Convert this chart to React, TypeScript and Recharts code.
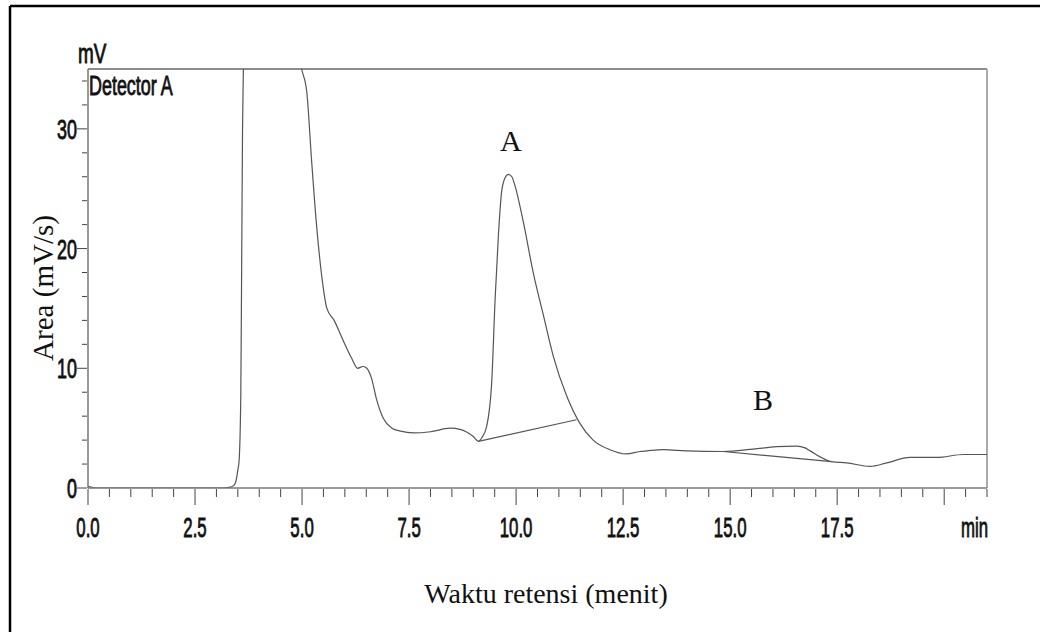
import React from 'react';
import { LineChart, Line, XAxis, YAxis, ReferenceLine, ReferenceDot } from 'recharts';

// Retention time (min) and detector signal (mV) of the chromatogram trace
const times = [
  0, 0.2, 0.5, 1.0, 2.0, 2.8, 3.1, 3.3, 3.4, 3.45, 3.5, 3.53, 3.57, 3.59, 3.61, 3.63, 3.67,
  4.6, 4.8, 4.99, 5.11, 5.22, 5.34, 5.46, 5.58, 5.75, 5.95, 6.15, 6.3, 6.42, 6.5, 6.62, 6.74,
  6.9, 7.1, 7.3, 7.6, 8.0, 8.46, 8.69, 9.0, 9.12, 9.2, 9.31, 9.43, 9.51, 9.59, 9.66, 9.74,
  9.82, 9.9, 9.97, 10.17, 10.4, 10.64, 10.87, 11.18, 11.49, 11.8, 12.19, 12.58, 12.89, 13.05,
  13.44, 13.98, 14.84, 15.54, 16.09, 16.55, 16.75, 16.87, 17.1, 17.37, 17.72, 18.27, 18.66,
  19.2, 19.82, 20.45, 21.0,
];
const signal = [
  0.15, 0, 0, 0, 0, 0, 0, 0.05, 0.2, 0.5, 1.5, 2.3, 8, 19, 30, 35, 45,
  45, 39, 35, 33.1, 27.5, 21.9, 17.7, 15.0, 14.0, 12.4, 10.9, 10.0, 10.15, 10.05, 9.2, 7.4,
  5.8, 5.0, 4.75, 4.6, 4.7, 5.0, 4.9, 4.3, 3.9, 4.2, 5.1, 8.8, 15.8, 21.3, 24.7, 25.9,
  26.2, 26.0, 25.3, 22.2, 18.0, 14.4, 11.0, 7.7, 5.4, 4.0, 3.2, 2.85, 3.05, 3.1,
  3.2, 3.1, 3.05, 3.25, 3.45, 3.5, 3.35, 3.1, 2.6, 2.2, 2.1, 1.8, 2.1,
  2.55, 2.55, 2.8, 2.8,
];

// Integration baselines drawn under peaks A and B
const baselineATimes = [9.12, 11.41];
const baselineAValues = [3.9, 5.7];
const baselineBTimes = [14.84, 17.37];
const baselineBValues = [3.05, 2.2];

// Axis ticks
const xTicks = [
  0, 0.5, 1, 1.5, 2, 2.5, 3, 3.5, 4, 4.5, 5, 5.5, 6, 6.5, 7, 7.5, 8, 8.5, 9, 9.5, 10,
  10.5, 11, 11.5, 12, 12.5, 13, 13.5, 14, 14.5, 15, 15.5, 16, 16.5, 17, 17.5, 18, 18.5,
  19, 19.5, 20, 20.5, 21,
];
const xLabelValues = [0, 2.5, 5, 7.5, 10, 12.5, 15, 17.5, 21];
const xLabelTexts = ['0.0', '2.5', '5.0', '7.5', '10.0', '12.5', '15.0', '17.5', 'min'];
const yTicks = [0, 2, 4, 6, 8, 10, 12, 14, 16, 18, 20, 22, 24, 26, 28, 30, 32, 34];
const yLabelValues = [0, 10, 20, 30];

// Peak annotations
const peakNames = ['A', 'B'];
const peakTimes = [9.88, 15.77];
const peakLevels = [29.0, 7.4];

const mainData = times.map((t, i) => ({ t, v: signal[i] }));
const baseAData = baselineATimes.map((t, i) => ({ t, v: baselineAValues[i] }));
const baseBData = baselineBTimes.map((t, i) => ({ t, v: baselineBValues[i] }));

const tickFont = "'Liberation Sans', Arial, sans-serif";
const serif = "'Liberation Serif', 'Times New Roman', serif";

const XTick = (props: any) => {
  const { x, y, payload } = props;
  const val = payload.value;
  const isMajor = Math.abs(val / 2.5 - Math.round(val / 2.5)) < 1e-6;
  const idx = xLabelValues.findIndex((v) => Math.abs(v - val) < 1e-6);
  const label = idx >= 0 ? xLabelTexts[idx] : null;
  const anchor = label === 'min' ? 'end' : 'middle';
  const lx = label === 'min' ? x + 1 : x;
  return (
    <g>
      <line x1={x} y1={y + 1} x2={x} y2={y + (isMajor ? 17 : 9)} stroke="#444" strokeWidth={1} />
      {label && (
        <g transform={`translate(${lx},${y + 49}) scale(0.6,1)`}>
          <text
            x={0}
            y={0}
            textAnchor={anchor}
            fontFamily={tickFont}
            fontSize={28}
            fill="#111"
            stroke="#111"
            strokeWidth={0.9}
          >
            {label}
          </text>
        </g>
      )}
    </g>
  );
};

const YTick = (props: any) => {
  const { x, y, payload } = props;
  const val = payload.value;
  const isMajor = yLabelValues.includes(val);
  return (
    <g>
      <line x1={x - 1} y1={y} x2={x - (isMajor ? 11 : 6)} y2={y} stroke="#444" strokeWidth={1} />
      {isMajor && (
        <g transform={`translate(${x - 11},${y + 10}) scale(0.64,1)`}>
          <text
            x={0}
            y={0}
            textAnchor="end"
            fontFamily={tickFont}
            fontSize={28}
            fill="#111"
            stroke="#111"
            strokeWidth={0.9}
          >
            {String(val)}
          </text>
        </g>
      )}
    </g>
  );
};

export default function App() {
  return (
    <div style={{ position: 'absolute', left: 0, top: 0, width: 1040, height: 632, background: '#fff' }}>
      <LineChart width={1040} height={632} margin={{ top: 69, right: 53, bottom: 84, left: 28 }}>
        <XAxis
          type="number"
          dataKey="t"
          domain={[0, 21]}
          ticks={xTicks}
          interval={0}
          allowDataOverflow
          height={60}
          tickSize={0}
          tickMargin={0}
          tickLine={false}
          tick={<XTick />}
          axisLine={{ stroke: '#777', strokeWidth: 1.5 }}
        />
        <YAxis
          type="number"
          dataKey="v"
          domain={[0, 35]}
          ticks={yTicks}
          interval={0}
          allowDataOverflow
          width={60}
          tickSize={0}
          tickMargin={0}
          tickLine={false}
          tick={<YTick />}
          axisLine={{ stroke: '#777', strokeWidth: 1.5 }}
        />
        <ReferenceLine y={35} stroke="#666" strokeWidth={1.5} />
        <ReferenceLine x={21} stroke="#aaa" strokeWidth={2} />
        <Line
          data={mainData}
          dataKey="v"
          type="monotone"
          dot={false}
          stroke="#555"
          strokeWidth={1.2}
          isAnimationActive={false}
        />
        <Line
          data={baseAData}
          dataKey="v"
          type="linear"
          dot={false}
          stroke="#555"
          strokeWidth={1.2}
          isAnimationActive={false}
        />
        <Line
          data={baseBData}
          dataKey="v"
          type="linear"
          dot={false}
          stroke="#555"
          strokeWidth={1.2}
          isAnimationActive={false}
        />
        {peakNames.map((name, i) => (
          <ReferenceDot
            key={name}
            x={peakTimes[i]}
            y={peakLevels[i]}
            r={0}
            stroke="none"
            fill="none"
            label={{ value: name, position: 'center', fontFamily: serif, fontSize: 30, fill: '#111' }}
          />
        ))}
      </LineChart>
      <svg
        width={1040}
        height={632}
        style={{ position: 'absolute', left: 0, top: 0, pointerEvents: 'none' }}
      >
        <line x1={10} y1={6} x2={1040} y2={6} stroke="#000" strokeWidth={2.5} />
        <line x1={10} y1={6} x2={10} y2={632} stroke="#000" strokeWidth={2.5} />
        <g transform="translate(78,63) scale(0.7,1)">
          <text x={0} y={0} fontFamily={tickFont} fontSize={27} fill="#111" stroke="#111" strokeWidth={0.9}>
            mV
          </text>
        </g>
        <g transform="translate(89,95) scale(0.64,1)">
          <text x={0} y={0} fontFamily={tickFont} fontSize={28} fill="#111" stroke="#111" strokeWidth={0.9}>
            Detector A
          </text>
        </g>
        <g transform="translate(53,288) rotate(-90)">
          <text x={0} y={0} textAnchor="middle" fontFamily={serif} fontSize={29} fill="#111">
            Area (mV/s)
          </text>
        </g>
        <text x={546} y={603} textAnchor="middle" fontFamily={serif} fontSize={28} fill="#111">
          Waktu retensi (menit)
        </text>
      </svg>
    </div>
  );
}
